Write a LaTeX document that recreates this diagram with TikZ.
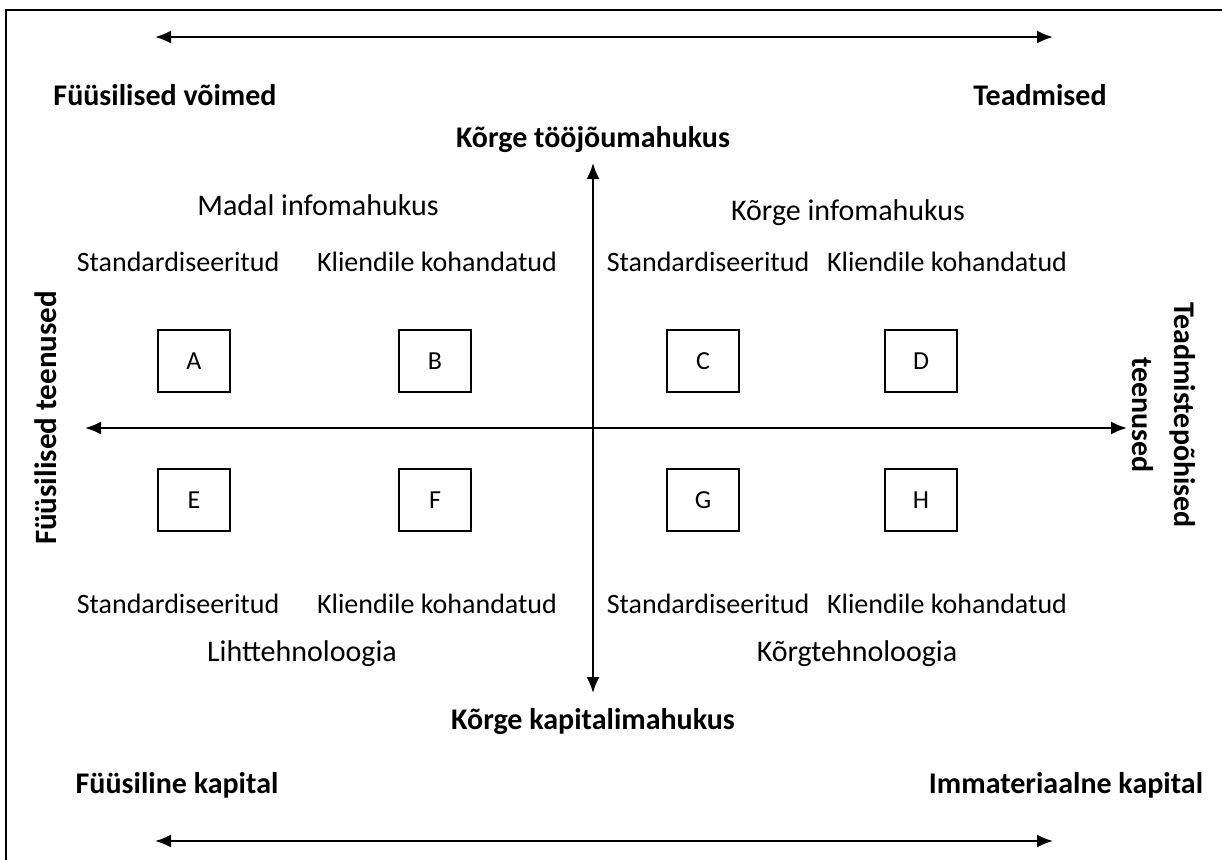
\documentclass[tikz,border=0pt]{standalone}
\usepackage{fontspec}
\setmainfont{Carlito}
\usetikzlibrary{arrows.meta,positioning}

\begin{document}
\begin{tikzpicture}[%
	x=1pt,y=-1pt,>={Latex[length=16pt,width=13pt]},
	axis/.style={<->,line width=2pt},
	head/.style={font=\bfseries\fontsize{30}{42}\selectfont},
	group/.style={font=\fontsize{30}{36}\selectfont},
	sub/.style={font=\fontsize{28}{34}\selectfont},
	cell/.style={draw,line width=1.8pt,minimum width=72pt,minimum height=62pt,font=\fontsize{26}{30}\selectfont}]

	\useasboundingbox (0,0) rectangle (1222,859);
	\draw[line width=2.5pt] (6,870) |- (1230,10);

	% top and bottom axes
	\coordinate (TL) at (155,37);
	\coordinate (TR) at (1053,37);
	\coordinate (BL) at (155,841);
	\coordinate (BR) at (1053,841);
	\draw[axis] (TL) -- (TR);
	\draw[axis] (BL) -- (BR);

	\node[head] (FV)	at (165,95)		{Füüsilised võimed};
	\node[head] (TM)	at (1040,95)	{Teadmised};
	\node[head] (FK)	at (177,785)	{Füüsiline kapital};
	\node[head] (IK)	at (1066,785)	{Immateriaalne kapital};

	% central cross
	\node[head] (KT)	at (593,140)	{Kõrge tööjõumahukus};
	\node[head] (KK)	at (593,722)	{Kõrge kapitalimahukus};
	\draw[axis] (593,163) coordinate (VT) -- (593,693) coordinate (VB);

	\node[head,rotate=90,font=\bfseries\fontsize{31}{42}\selectfont] (FT) at (46,418) {Füüsilised teenused};
	\node[head,rotate=-90,align=center] (TT) at (1164,415) {Teadmistepõhised\\teenused};
	\coordinate (HL) at (85,428);
	\coordinate (HR) at (1127,428);
	\draw[axis] (HL) -- (HR);

	% groups
	\node[group] (MI)	at (318,205)	{Madal infomahukus};
	\node[group] (KI)	at (848,213)	{Kõrge infomahukus};
	\node[group] (LT)	at (302,654)	{Lihttehnoloogia};
	\node[group] (KG)	at (857,654)	{Kõrgtehnoloogia};

	\node[sub] (S1)	at (178,262)	{Standardiseeritud};
	\node[sub] (K1)	at (437,262)	{Kliendile kohandatud};
	\node[sub] (S2)	at (708,262)	{Standardiseeritud};
	\node[sub] (K2)	at (947,262)	{Kliendile kohandatud};
	\node[sub] (S3)	at (178,604)	{Standardiseeritud};
	\node[sub] (K3)	at (437,604)	{Kliendile kohandatud};
	\node[sub] (S4)	at (708,604)	{Standardiseeritud};
	\node[sub] (K4)	at (947,604)	{Kliendile kohandatud};

	% cells
	\node[cell] (A)	at (194,361)	{A};
	\node[cell] (B)	at (435,361)	{B};
	\node[cell] (C)	at (703,361)	{C};
	\node[cell] (D)	at (921,361)	{D};
	\node[cell] (E)	at (194,500)	{E};
	\node[cell] (F)	at (435,500)	{F};
	\node[cell] (G)	at (703,500)	{G};
	\node[cell] (H)	at (921,500)	{H};

\end{tikzpicture}
\end{document}
